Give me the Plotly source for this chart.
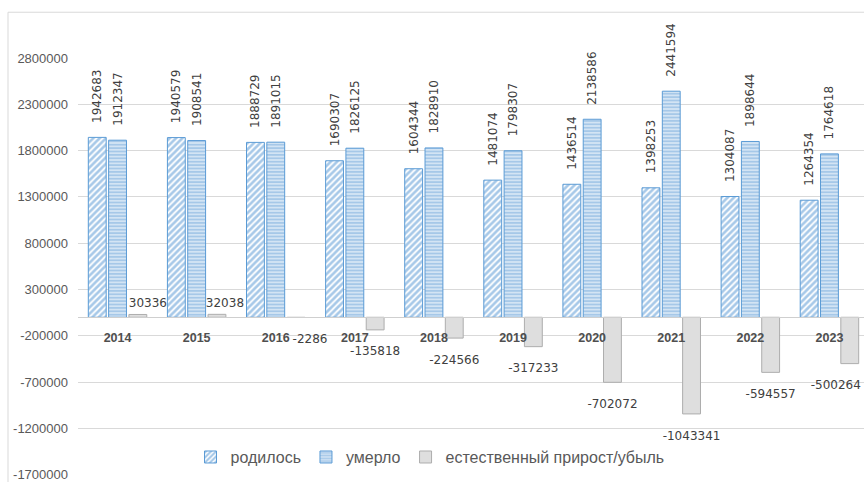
import plotly.graph_objects as go

years = ["2014", "2015", "2016", "2017", "2018", "2019", "2020", "2021", "2022", "2023"]
born = [1942683, 1940579, 1888729, 1690307, 1604344, 1481074, 1436514, 1398253, 1304087, 1264354]
died = [1912347, 1908541, 1891015, 1826125, 1828910, 1798307, 2138586, 2441594, 1898644, 1764618]
natural = [30336, 32038, -2286, -135818, -224566, -317233, -702072, -1043341, -594557, -500264]
y_ticks = [-1700000, -1200000, -700000, -200000, 300000, 800000, 1300000, 1800000, 2300000, 2800000]
y_tick_labels = [str(v) for v in y_ticks]
series_names = ["родилось", "умерло", "естественный прирост/убыль"]

# style: horizontal nudges (px) of the natural-growth labels, as Excel placed them
natural_label_nudge = [10, 8, 14, 0, 0, 0, 0, 0, 0, -14]

W, H = 864, 482
ML, MR, MT, MB = 78, 0, 58, 5
cat_px = 79.1
plot_w = W - ML - MR
plot_h = H - MT - MB
ymin, ymax = y_ticks[0], y_ticks[-1]
yr_lo = ymin - 3000
zero_frac = (0 - yr_lo) / (ymax - yr_lo)
BARGAP, GROUPGAP = 0.23, 0.12
x_range = [-0.5, -0.5 + plot_w / cat_px]
third_offset = (1 - BARGAP) / 3  # category units from centre to third bar centre

BLUE = "#5B9BD5"
GRAY_TXT = "#595959"
LBL = "#404040"
GRID = "#D9D9D9"

nb = "\u00a0\u00a0\u00a0"
lab_font = dict(family="DejaVu Sans", size=12, color=LBL)

fig = go.Figure()
fig.add_trace(go.Bar(
    x=years, y=born, name=series_names[0],
    marker=dict(color=BLUE, line=dict(color=BLUE, width=1),
                pattern=dict(shape="/", fgcolor="#4E92D2", bgcolor="#FFFFFF", size=4.5, solidity=0.6)),
    text=[nb + str(v) for v in born], textposition="outside", textangle=-90,
    textfont=lab_font, cliponaxis=False, constraintext="none", hoverinfo="skip",
))
fig.add_trace(go.Bar(
    x=years, y=died, name=series_names[1],
    marker=dict(color=BLUE, line=dict(color=BLUE, width=1),
                pattern=dict(shape="-", fgcolor="#4E92D2", bgcolor="#FFFFFF", size=3.4, solidity=0.75)),
    text=[nb + str(v) for v in died], textposition="outside", textangle=-90,
    textfont=lab_font, cliponaxis=False, constraintext="none", hoverinfo="skip",
))
fig.add_trace(go.Bar(
    x=years, y=natural, name=series_names[2],
    marker=dict(color="#DEDEDE", line=dict(color="#ADADAD", width=1)),
    cliponaxis=False, hoverinfo="skip",
))

# labels of the natural-growth bars on an overlaid linear axis
lab_x = [i + third_offset + dx / cat_px for i, dx in enumerate(natural_label_nudge)]
fig.add_trace(go.Scatter(
    x=lab_x, y=natural, xaxis="x2", mode="markers+text",
    marker=dict(size=[6 if v > 0 else 25 for v in natural], opacity=0),
    text=[str(v) for v in natural],
    textposition=["top center" if v > 0 else "bottom center" for v in natural],
    textfont=lab_font, showlegend=False, hoverinfo="skip", cliponaxis=False,
))

# chart frame (Excel chart border)
fx = (8 - ML) / plot_w
fy = 1 + (MT - 12) / plot_h
fig.add_shape(type="path", xref="paper", yref="paper",
              path=f"M {fx} -0.05 L {fx} {fy} L 1.05 {fy}",
              line=dict(color=GRID, width=1))

fig.update_layout(
    width=W, height=H,
    margin=dict(l=ML, r=MR, t=MT, b=MB),
    paper_bgcolor="white", plot_bgcolor="white",
    barmode="group", bargap=BARGAP, bargroupgap=GROUPGAP,
    font=dict(family="Liberation Sans", color=GRAY_TXT),
    xaxis=dict(
        type="category", range=x_range,
        anchor="free", position=zero_frac,
        showline=True, linecolor="#CFCFCF", linewidth=1,
        showgrid=False, ticks="",
        tickfont=dict(family="Liberation Sans", size=12.5, color="#4F4F4F", weight="bold"),
        ticklabelstandoff=9,
    ),
    xaxis2=dict(
        type="linear", range=x_range, overlaying="x", anchor="y",
        visible=False, showgrid=False, zeroline=False,
    ),
    yaxis=dict(
        range=[yr_lo, ymax], tickvals=y_ticks, ticktext=y_tick_labels,
        showgrid=True, gridcolor=GRID, gridwidth=1, zeroline=False,
        showline=False, ticks="", ticklabeloverflow="allow",
        tickfont=dict(family="Liberation Sans", size=13, color=GRAY_TXT),
        ticklabelstandoff=9,
    ),
    legend=dict(
        orientation="h", x=(430 - ML) / plot_w, xanchor="center",
        y=(477 - 459) / plot_h, yanchor="middle",
        font=dict(family="Liberation Sans", size=16, color=GRAY_TXT),
        bgcolor="rgba(0,0,0,0)", itemwidth=30, traceorder="normal",
    ),
    showlegend=True,
)

fig.write_html("out.html")
